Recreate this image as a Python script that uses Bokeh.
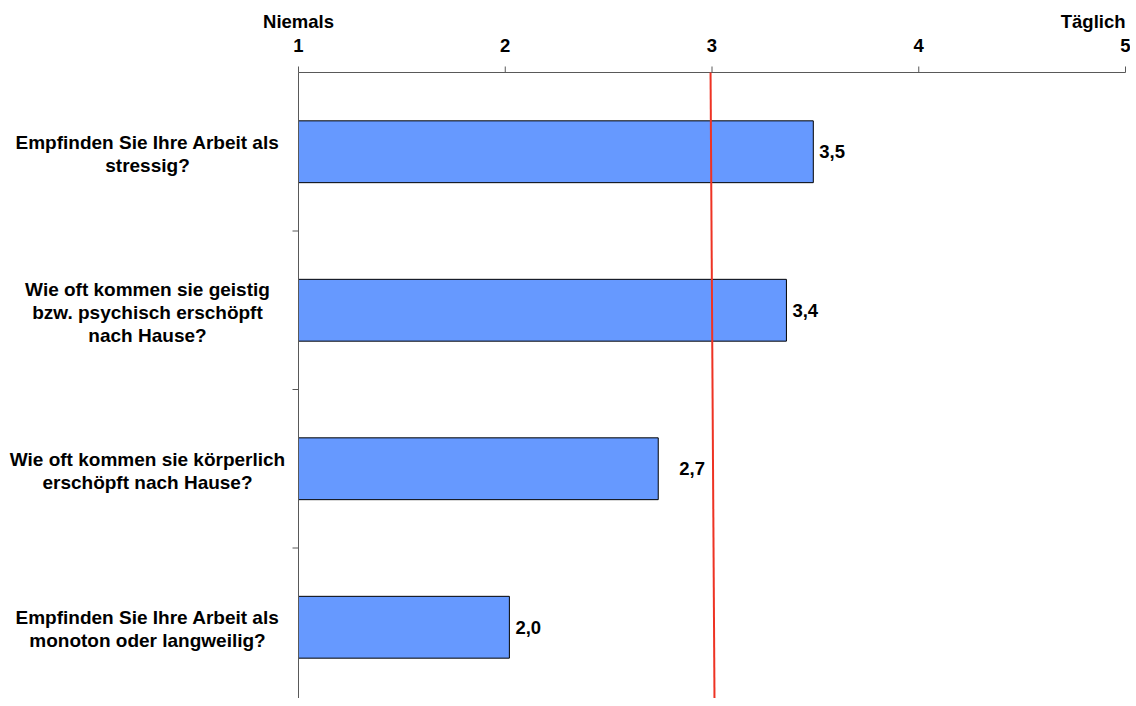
import math
from bokeh.plotting import figure
from bokeh.models import Range1d, ColumnDataSource
from bokeh.core.properties import value
from bokeh.embed import file_html
from bokeh.resources import INLINE

# ---- data ----
questions = [
    "Empfinden Sie Ihre Arbeit als\nstressig?",
    "Wie oft kommen sie geistig\nbzw. psychisch erschöpft\nnach Hause?",
    "Wie oft kommen sie körperlich\nerschöpft nach Hause?",
    "Empfinden Sie Ihre Arbeit als\nmonoton oder langweilig?",
]
scores = [3.49, 3.36, 2.74, 2.02]
x_ticks = [1, 2, 3, 4, 5]
scale_low_label = "Niemals"
scale_high_label = "Täglich"
reference_line_x = [2.993, 3.012]   # top, bottom (slightly slanted in original)

# ---- style / layout ----
FONT = "Liberation Sans"
BAR_COLOR = "#6699FF"
AXIS_COLOR = "#595959"
RED = "#EE3324"
label_offsets = [6, 6, 21, 6]

W, H = 1130, 698
PX_LEFT, PX_RIGHT = 298, 1125      # pixel x of scale value 1 and 5
PX_TOP, BAND_PX = 72, 158.5        # pixel y of top axis, height of one category band

n = len(questions)
kx = (PX_RIGHT - PX_LEFT) / (x_ticks[-1] - x_ticks[0])
x_start = x_ticks[0] - PX_LEFT / kx
x_end = x_ticks[-1] + (W - PX_RIGHT) / kx
y_end = n + PX_TOP / BAND_PX
y_start = n - (H - PX_TOP) / BAND_PX

y_centers = [n - i - 0.5 for i in range(n)]
labels_txt = [f"{v:.1f}".replace(".", ",") for v in scores]

p = figure(
    width=W, height=H,
    x_range=Range1d(x_start, x_end), y_range=Range1d(y_start, y_end),
    output_backend="svg", toolbar_location=None,
    x_axis_location=None, y_axis_location=None,
    min_border_left=0, min_border_right=0, min_border_top=0, min_border_bottom=0,
)
p.outline_line_color = None
p.xgrid.visible = False
p.ygrid.visible = False
p.background_fill_color = "white"
p.border_fill_color = "white"

TXT = dict(text_font=value(FONT), text_font_style="bold", text_font_size="18.5px",
           text_color="black")

# bars
src = ColumnDataSource(dict(y=y_centers, right=scores, label=labels_txt, off=label_offsets))
p.hbar(y="y", left=x_ticks[0], right="right", height=0.39, source=src,
       fill_color=BAR_COLOR, line_color="black", line_width=1)
p.text(x="right", y="y", text="label", x_offset="off", source=src,
       text_align="left", text_baseline="middle", **TXT)

# top scale axis
p.segment(x0=x_ticks[0], y0=n, x1=x_ticks[-1], y1=n, line_color=AXIS_COLOR, line_width=1)
p.ray(x=x_ticks, y=[n] * len(x_ticks), length=6, length_units="screen",
      angle=math.pi / 2, line_color=AXIS_COLOR, line_width=1)
p.text(x=x_ticks, y=[n] * len(x_ticks), text=[str(t) for t in x_ticks], y_offset=-27,
       text_align="center", text_baseline="middle", **TXT)
p.text(x=[x_ticks[0]], y=[n], text=[scale_low_label], y_offset=-51,
       text_align="center", text_baseline="middle", **TXT)
p.text(x=[x_ticks[-1]], y=[n], text=[scale_high_label], y_offset=-51,
       text_align="right", text_baseline="middle", **TXT)

# left category axis
p.segment(x0=x_ticks[0], y0=y_start, x1=x_ticks[0], y1=n, line_color=AXIS_COLOR, line_width=1)
p.ray(x=[x_ticks[0]] * (n - 1), y=list(range(1, n)), length=6, length_units="screen",
      angle=math.pi, line_color=AXIS_COLOR, line_width=1)
p.text(x=[x_ticks[0]] * n, y=y_centers, text=questions, x_offset=-151, y_offset=2,
       text_align="center", text_baseline="middle", text_line_height=1.1,
       text_font=value(FONT), text_font_style="bold", text_font_size="19px",
       text_color="black")

# reference line
p.segment(x0=reference_line_x[0], y0=n, x1=reference_line_x[1], y1=y_start,
          line_color=RED, line_width=2)

open("out.html", "w").write(file_html(p, INLINE))
